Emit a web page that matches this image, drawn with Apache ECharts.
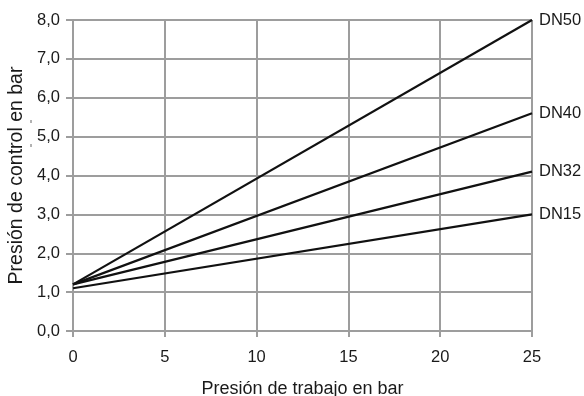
<!DOCTYPE html>
<html>
<head>
<meta charset="utf-8">
<script src="https://cdn.jsdelivr.net/npm/echarts@6/dist/echarts.min.js"></script>
<style>html,body{margin:0;padding:0;background:#fff}#c{width:584px;height:396px}</style>
</head>
<body>
<div id="c"></div>
<script>
const seriesNames = ['DN50', 'DN40', 'DN32', 'DN15'];
const xPoints = [0, 25];
const dn50 = [1.2, 8.0];
const dn40 = [1.2, 5.6];
const dn32 = [1.2, 4.1];
const dn15 = [1.1, 3.0];
const xTicks = [0, 5, 10, 15, 20, 25];
const yTicks = [0, 1, 2, 3, 4, 5, 6, 7, 8];
const xTitle = 'Presión de trabajo en bar';
const yTitle = 'Presión de control en bar';

const values = [dn50, dn40, dn32, dn15];
const font = 'Liberation Sans, Arial, sans-serif';
const gridColor = '#9d9d9d';
const textColor = '#1a1a1a';
const fs = 16.5;

const chart = echarts.init(document.getElementById('c'), null, {renderer: 'canvas'});
chart.setOption({
  animation: false,
  backgroundColor: '#fff',
  grid: {left: 73, right: 52, top: 20, bottom: 65, containLabel: false, outerBoundsMode: 'none'},
  xAxis: {
    type: 'value', min: xTicks[0], max: xTicks[xTicks.length - 1], interval: 5,
    name: xTitle, nameLocation: 'middle', nameGap: 49,
    nameTextStyle: {fontFamily: font, fontSize: 18, color: textColor},
    axisLine: {show: true, lineStyle: {color: gridColor, width: 2}},
    axisTick: {show: true, length: 6, lineStyle: {color: gridColor, width: 2}},
    axisLabel: {fontFamily: font, fontSize: fs, color: textColor, margin: 18},
    splitLine: {show: true, lineStyle: {color: gridColor, width: 2}}
  },
  yAxis: {
    type: 'value', min: yTicks[0], max: yTicks[yTicks.length - 1], interval: 1,
    name: yTitle, nameLocation: 'middle', nameGap: 45, nameRotate: 90,
    nameTextStyle: {fontFamily: font, fontSize: 19.5, color: textColor},
    axisLine: {show: true, lineStyle: {color: gridColor, width: 2}},
    axisTick: {show: true, length: 7, lineStyle: {color: gridColor, width: 2}},
    axisLabel: {fontFamily: font, fontSize: fs, color: textColor, margin: 13,
      formatter: v => v.toFixed(1).replace('.', ',')},
    splitLine: {show: true, lineStyle: {color: gridColor, width: 2}}
  },
  graphic: [
    {type: 'line', shape: {x1: 31, y1: 120, x2: 31, y2: 123}, style: {stroke: '#666', lineWidth: 1}},
    {type: 'line', shape: {x1: 31, y1: 144, x2: 31, y2: 147}, style: {stroke: '#666', lineWidth: 1}}
  ],
  series: seriesNames.map((name, i) => ({
    name: name,
    type: 'line',
    data: xPoints.map((x, j) => [x, values[i][j]]),
    symbol: 'none',
    lineStyle: {color: '#111', width: 2.2},
    endLabel: {show: true, formatter: '{a}', distance: 7,
      fontFamily: font, fontSize: fs, color: textColor},
    z: 3
  }))
});
</script>
</body>
</html>
